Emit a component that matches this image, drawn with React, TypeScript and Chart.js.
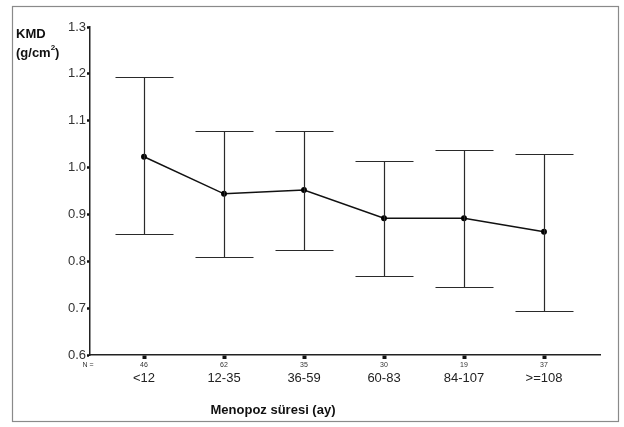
import React, { useEffect, useRef } from "react";
import { Chart, registerables } from "chart.js";

Chart.register(...registerables);

const categories = ["<12", "12-35", "36-59", "60-83", "84-107", ">=108"];
const nValues = ["46", "62", "35", "30", "19", "37"];
const means = [1.023, 0.944, 0.952, 0.892, 0.892, 0.863];
const upper = [1.193, 1.078, 1.078, 1.013, 1.038, 1.029];
const lower = [0.858, 0.809, 0.825, 0.768, 0.746, 0.693];
const yTickValues = [0.6, 0.7, 0.8, 0.9, 1.0, 1.1, 1.2, 1.3];

const FONT = "'Liberation Sans', Arial, sans-serif";

const decorPlugin = {
  id: "decor",
  beforeDraw(chart: any) {
    const ctx = chart.ctx;
    ctx.save();
    ctx.fillStyle = "#ffffff";
    ctx.fillRect(0, 0, chart.width, chart.height);
    ctx.restore();
  },
  afterDatasetsDraw(chart: any) {
    const ctx = chart.ctx;
    const xs = chart.scales.x;
    const ys = chart.scales.y;
    ctx.save();
    ctx.strokeStyle = "#2a2a2a";
    ctx.lineWidth = 1.2;
    const half = 29;
    for (let i = 0; i < means.length; i++) {
      const x = Math.round(xs.getPixelForValue(i)) + 0.5;
      const yu = Math.round(ys.getPixelForValue(upper[i])) + 0.5;
      const yl = Math.round(ys.getPixelForValue(lower[i])) + 0.5;
      ctx.beginPath();
      ctx.moveTo(x, yu);
      ctx.lineTo(x, yl);
      ctx.moveTo(x - half, yu);
      ctx.lineTo(x + half, yu);
      ctx.moveTo(x - half, yl);
      ctx.lineTo(x + half, yl);
      ctx.stroke();
    }
    ctx.restore();
  },
  afterDraw(chart: any) {
    const ctx = chart.ctx;
    const xs = chart.scales.x;
    ctx.save();
    // frame
    ctx.strokeStyle = "#8a8a8a";
    ctx.lineWidth = 1.2;
    ctx.strokeRect(12.5, 6.5, 606, 415);
    // y title
    ctx.fillStyle = "#111";
    ctx.font = `bold 13px ${FONT}`;
    ctx.textAlign = "left";
    ctx.textBaseline = "middle";
    ctx.fillText("KMD", 16, 34);
    ctx.fillText("(g/cm", 16, 53);
    const w = ctx.measureText("(g/cm").width;
    ctx.font = `bold 8px ${FONT}`;
    ctx.fillText("2", 16 + w, 48);
    const w2 = ctx.measureText("2").width;
    ctx.font = `bold 13px ${FONT}`;
    ctx.fillText(")", 16 + w + w2, 53);
    // N labels
    ctx.font = `7px ${FONT}`;
    ctx.fillStyle = "#333";
    ctx.textAlign = "center";
    ctx.fillText("N =", 88, 365);
    for (let i = 0; i < nValues.length; i++) {
      ctx.fillText(nValues[i], xs.getPixelForValue(i), 365);
    }
    // x title
    ctx.font = `bold 13px ${FONT}`;
    ctx.fillStyle = "#111";
    ctx.fillText("Menopoz süresi (ay)", 273, 410);
    ctx.restore();
  },
};

export default function App() {
  const ref = useRef<HTMLCanvasElement>(null);
  useEffect(() => {
    if (!ref.current) return;
    const chart = new Chart(ref.current, {
      type: "line",
      data: {
        datasets: [
          {
            data: means.map((m, i) => ({ x: i, y: m })),
            borderColor: "#111",
            borderWidth: 1.5,
            pointRadius: 2.2,
            pointBackgroundColor: "#000",
            pointBorderColor: "#000",
            tension: 0,
            fill: false,
          },
        ],
      },
      plugins: [decorPlugin],
      options: {
        animation: false,
        responsive: false,
        layout: { padding: { top: 27, right: 24, left: 0, bottom: 0 } },
        plugins: { legend: { display: false }, tooltip: { enabled: false } },
        scales: {
          x: {
            type: "linear",
            min: -0.675,
            max: 5.7,
            afterBuildTicks: (scale: any) => {
              scale.ticks = categories.map((_, i) => ({ value: i }));
            },
            afterFit: (scale: any) => {
              scale.height = 72;
            },
            border: { display: true, color: "#222", width: 1.5 },
            grid: {
              drawOnChartArea: false,
              drawTicks: true,
              tickLength: 4,
              tickWidth: 4,
              tickColor: "#111",
            },
            ticks: {
              autoSkip: false,
              maxRotation: 0,
              padding: 12,
              color: "#222",
              font: { family: FONT, size: 13 },
              callback: (v: any) => categories[Math.round(Number(v))] ?? "",
            },
          },
          y: {
            min: 0.6,
            max: 1.3,
            afterBuildTicks: (scale: any) => {
              scale.ticks = yTickValues.map((v) => ({ value: v }));
            },
            afterFit: (scale: any) => {
              scale.width = 90;
            },
            border: { display: true, color: "#222", width: 1.5 },
            grid: {
              drawOnChartArea: false,
              drawTicks: true,
              tickLength: 3,
              tickWidth: 2.5,
              tickColor: "#111",
            },
            ticks: {
              padding: 1,
              color: "#333",
              font: { family: FONT, size: 13 },
              callback: (v: any) => Number(v).toFixed(1),
            },
          },
        },
      },
    });
    return () => chart.destroy();
  }, []);
  return (
    <div style={{ position: "absolute", left: 0, top: 0, width: 624, height: 427, background: "#fff" }}>
      <canvas ref={ref} width={624} height={427} style={{ width: 624, height: 427, display: "block" }} />
    </div>
  );
}
